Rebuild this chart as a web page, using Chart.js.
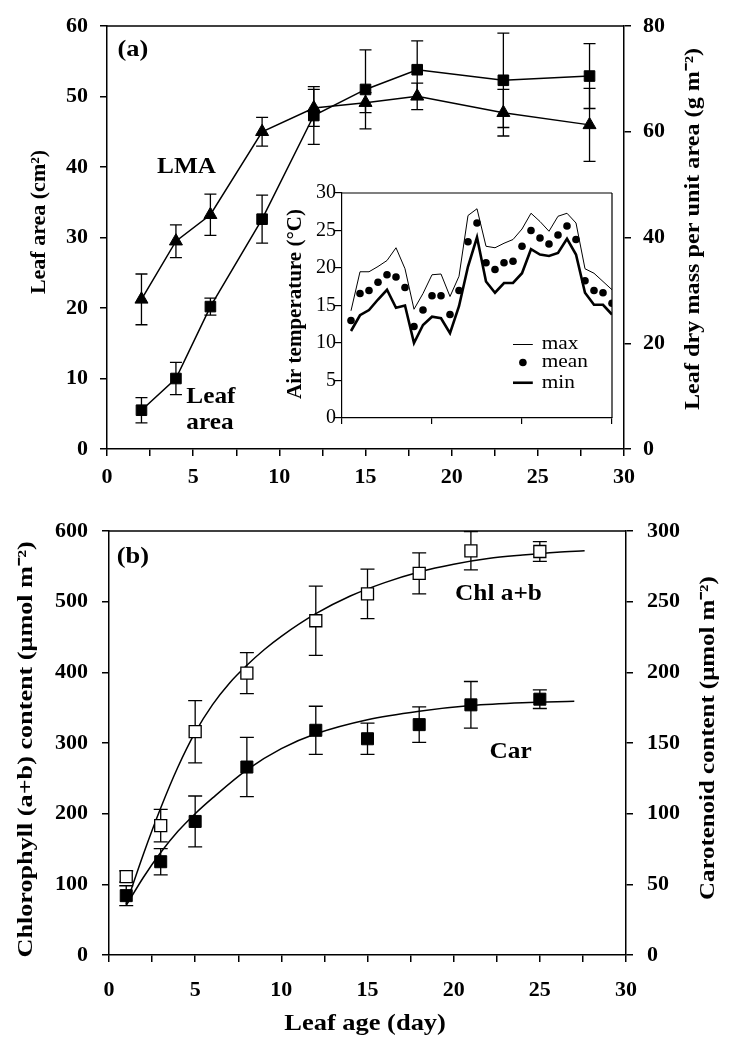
<!DOCTYPE html>
<html>
<head>
<meta charset="utf-8">
<script src="https://cdn.jsdelivr.net/npm/chart.js@4.4.1/dist/chart.umd.min.js"></script>
<style>
  body { margin: 0; background: #fff; }
  #wrap { position: relative; width: 733px; height: 1050px; }
  canvas { position: absolute; }
</style>
</head>
<body>
<div id="wrap">
  <canvas id="chartA" width="733" height="500" style="left:0;top:0"></canvas>
  <canvas id="chartInset" width="345" height="268" style="left:275px;top:160px"></canvas>
  <canvas id="chartB" width="733" height="550" style="left:0;top:500px"></canvas>
</div>
<script>
// ---- panel (a): leaf area and LMA ----
const AGE_A = [2, 4, 6, 9, 12, 15, 18, 23, 28];
const LEAF_AREA = [5.5, 10.0, 20.2, 32.6, 47.3, 51.0, 53.8, 52.3, 52.9];
const LEAF_AREA_SE = [1.8, 2.3, 1.2, 3.4, 4.1, 5.6, 4.1, 6.7, 4.6];
const LMA = [28.3, 39.3, 44.3, 60.0, 64.5, 65.5, 66.7, 63.6, 61.3];
const LMA_SE = [4.8, 3.1, 3.9, 2.7, 3.5, 1.9, 2.5, 4.4, 6.9];

// ---- inset: air temperature ----
const DAYS = [1, 2, 3, 4, 5, 6, 7, 8, 9, 10, 11, 12, 13, 14, 15,
              16, 17, 18, 19, 20, 21, 22, 23, 24, 25, 26, 27, 28, 29, 30];
const T_MAX = [14.3, 19.5, 19.5, 20.2, 21.0, 22.7, 19.9, 14.5, 16.6, 19.1, 19.2, 16.2, 18.9, 27.0, 27.9,
               22.9, 22.7, 23.3, 23.8, 25.2, 27.3, 26.2, 24.9, 26.9, 27.3, 26.0, 19.9, 19.3, 18.2, 17.1];
const T_MEAN = [13.0, 16.6, 17.0, 18.1, 19.1, 18.8, 17.4, 12.2, 14.4, 16.3, 16.3, 13.8, 17.0, 23.5, 26.0,
                20.7, 19.8, 20.7, 20.9, 22.9, 25.0, 24.0, 23.2, 24.4, 25.6, 23.8, 18.3, 17.0, 16.7, 15.3];
const T_MIN = [11.6, 13.7, 14.4, 15.8, 17.1, 14.7, 15.0, 10.0, 12.4, 13.5, 13.3, 11.3, 14.9, 20.2, 24.1,
               18.2, 16.7, 18.0, 18.0, 19.3, 22.5, 21.8, 21.6, 22.0, 23.9, 21.8, 16.7, 15.1, 15.1, 13.8];

// ---- panel (b): pigments ----
const AGE_B = [1, 3, 5, 8, 12, 15, 18, 21, 25];
const CHL = [111, 183, 316, 399, 473, 511, 540, 572, 571];
const CHL_SE = [8, 23, 44, 29, 49, 35, 29, 27, 14];
const CAR = [42, 66, 94.5, 133, 159, 153, 163, 177, 181];
const CAR_SE = [7, 9.3, 18, 21, 17, 11, 12.6, 16.5, 6.6];

// fitted curves
const CHL_FIT_AGE = [1, 2, 3, 4, 5, 6, 7, 8, 9, 10, 12, 14, 16, 18, 20, 22, 24, 26, 27.6];
const CHL_FIT = [72, 143, 208, 266, 315, 354, 385, 410, 432, 451, 483, 508, 527, 542, 553, 561, 566, 570, 572];
const CAR_FIT_AGE = [1, 2, 3, 4, 5, 6, 8, 10, 12, 15, 18, 21, 24, 27];
const CAR_FIT = [35, 55, 72.5, 87.5, 100, 111, 131, 146, 156.5, 166.5, 172.5, 176.5, 178.5, 179.5];

const SERIF = "'Liberation Serif', 'Times New Roman', serif";

function pts(xs, ys) {
  return xs.map((x, i) => ({ x: x, y: ys[i] }));
}

// fixed axis box sizes so the plot areas line up with the figure
function boxWidth(w) {
  return function(scale) {
    scale.width = w;
    scale.paddingTop = 0;
    scale.paddingBottom = 0;
  };
}
function boxHeight(h) {
  return function(scale) {
    scale.height = h;
    scale.paddingLeft = 0;
    scale.paddingRight = 0;
  };
}

function drawText(ctx, text, x, y, font, rot, stretch, align) {
  ctx.save();
  ctx.translate(x, y);
  ctx.rotate(rot || 0);
  ctx.scale(stretch || 1, 1);
  ctx.font = font;
  ctx.fillStyle = "#000";
  ctx.textAlign = align || "center";
  ctx.textBaseline = "middle";
  ctx.fillText(text, 0, 0);
  ctx.restore();
}

const errorBars = {
  id: "errorBars",
  beforeDatasetsDraw(chart) {
    const ctx = chart.ctx;
    chart.data.datasets.forEach((ds, i) => {
      if (!ds.errors) return;
      const meta = chart.getDatasetMeta(i);
      const xs = chart.scales[meta.xAxisID];
      const ys = chart.scales[meta.yAxisID];
      ctx.save();
      ctx.strokeStyle = "#000";
      ctx.lineWidth = 1.3;
      ds.data.forEach((p, j) => {
        const e = ds.errors[j];
        const x = xs.getPixelForValue(p.x);
        const top = ys.getPixelForValue(p.y + e);
        const bot = ys.getPixelForValue(p.y - e);
        const c = ds.capHalf || 6;
        ctx.beginPath();
        ctx.moveTo(x, top); ctx.lineTo(x, bot);
        ctx.moveTo(x - c, top); ctx.lineTo(x + c, top);
        ctx.moveTo(x - c, bot); ctx.lineTo(x + c, bot);
        ctx.stroke();
      });
      ctx.restore();
    });
  }
};

const frame = {
  id: "frame",
  afterDatasetsDraw(chart, args, opts) {
    const ctx = chart.ctx;
    const a = chart.chartArea;
    ctx.save();
    ctx.strokeStyle = "#000";
    ctx.lineWidth = opts.width || 1.5;
    ctx.beginPath();
    ctx.moveTo(a.left, a.top);
    ctx.lineTo(a.right, a.top);
    if (opts.right) {
      ctx.moveTo(a.right, a.top);
      ctx.lineTo(a.right, a.bottom);
    }
    ctx.stroke();
    ctx.restore();
  }
};

// axis titles: all read bottom-to-top like the original, fonts a little wide
const titles = {
  id: "titles",
  afterDraw(chart, args, opts) {
    const ctx = chart.ctx;
    (opts.items || []).forEach(t => {
      const s = chart.scales[t.axis];
      if (s.isHorizontal()) {
        drawText(ctx, t.text, s.getPixelForValue(t.at), t.pos, t.font, 0, t.stretch);
      } else {
        drawText(ctx, t.text, t.pos, s.getPixelForValue(t.at), t.font, -Math.PI / 2, t.stretch);
      }
    });
  }
};

// text labels placed in data coordinates
const notes = {
  id: "notes",
  afterDraw(chart, args, opts) {
    const ctx = chart.ctx;
    (opts.items || []).forEach(t => {
      const x = chart.scales.x.getPixelForValue(t.x);
      const y = chart.scales[t.axis || "y"].getPixelForValue(t.y);
      drawText(ctx, t.text, x, y, t.font, 0, 1.1, t.align);
    });
  }
};

// small legend inside the inset
const insetLegend = {
  id: "insetLegend",
  afterDraw(chart) {
    const ctx = chart.ctx;
    const xs = chart.scales.x;
    const ys = chart.scales.y;
    const x0 = xs.getPixelForValue(19.0);
    const x1 = xs.getPixelForValue(21.2);
    const xt = xs.getPixelForValue(22.2);
    const rows = [
      { y: 9.8, text: "max", kind: "thin" },
      { y: 7.4, text: "mean", kind: "dot" },
      { y: 4.7, text: "min", kind: "thick" }
    ];
    ctx.save();
    ctx.fillStyle = "#000";
    ctx.strokeStyle = "#000";
    rows.forEach(r => {
      const y = ys.getPixelForValue(r.y);
      if (r.kind === "dot") {
        ctx.beginPath();
        ctx.arc((x0 + x1) / 2, y, 3.8, 0, Math.PI * 2);
        ctx.fill();
      } else {
        ctx.lineWidth = r.kind === "thin" ? 1 : 2.6;
        ctx.beginPath();
        ctx.moveTo(x0, y);
        ctx.lineTo(x1, y);
        ctx.stroke();
      }
      drawText(ctx, r.text, xt, y, "19px " + SERIF, 0, 1.12, "left");
    });
    ctx.restore();
  }
};

function axisStyle(extra) {
  return Object.assign({
    grid: { drawOnChartArea: false, color: "#000", lineWidth: 1.5, tickLength: 7 },
    border: { display: true, color: "#000", width: 1.5 }
  }, extra);
}

const boldTick = { family: SERIF, size: 22, weight: "bold" };
const TITLE_FONT = "bold 22px " + SERIF;

// ---------- panel (a) ----------
new Chart(document.getElementById("chartA"), {
  type: "scatter",
  data: {
    datasets: [
      {
        label: "Leaf area",
        data: pts(AGE_A, LEAF_AREA),
        errors: LEAF_AREA_SE,
        capHalf: 6,
        yAxisID: "y",
        showLine: true,
        borderColor: "#000",
        borderWidth: 1.5,
        backgroundColor: "#000",
        pointStyle: "rect",
        pointRadius: 7.5,
        pointBorderWidth: 1
      },
      {
        label: "LMA",
        data: pts(AGE_A, LMA),
        errors: LMA_SE,
        capHalf: 6,
        yAxisID: "y2",
        showLine: true,
        borderColor: "#000",
        borderWidth: 1.5,
        backgroundColor: "#000",
        pointStyle: "triangle",
        pointRadius: 7.5,
        pointBorderWidth: 1
      }
    ]
  },
  options: {
    responsive: false,
    animation: false,
    layout: { padding: { top: 26, left: 0, right: 0, bottom: 0 } },
    plugins: {
      legend: { display: false },
      tooltip: { enabled: false },
      frame: { width: 1.5 },
      titles: {
        items: [
          { text: "Leaf area (cm²)", axis: "y", at: 32.2, pos: 39, font: TITLE_FONT, stretch: 1 },
          { text: "Leaf dry mass per unit area (g m⁻²)", axis: "y", at: 31.2, pos: 693, font: TITLE_FONT, stretch: 1.1 }
        ]
      },
      notes: {
        items: [
          { text: "(a)", x: 1.5, y: 56.6, font: "bold 24px " + SERIF },
          { text: "LMA", x: 4.62, y: 40.0, font: "bold 23px " + SERIF },
          { text: "Leaf", x: 4.6, y: 7.4, align: "left", font: "bold 23px " + SERIF },
          { text: "area", x: 4.6, y: 3.7, align: "left", font: "bold 23px " + SERIF }
        ]
      }
    },
    scales: {
      x: axisStyle({
        type: "linear",
        min: 0,
        max: 30,
        ticks: {
          stepSize: 2.5,
          autoSkip: false,
          maxRotation: 0,
          padding: 8,
          color: "#000",
          font: boldTick,
          callback: v => (v % 5 === 0 ? v : "")
        },
        afterFit: boxHeight(51)
      }),
      y: axisStyle({
        position: "left",
        min: 0,
        max: 60,
        ticks: { stepSize: 10, padding: 12, color: "#000", font: boldTick },
        afterFit: boxWidth(107)
      }),
      y2: axisStyle({
        position: "right",
        min: 0,
        max: 80,
        ticks: { stepSize: 20, padding: 12, color: "#000", font: boldTick },
        afterFit: boxWidth(109)
      })
    }
  },
  plugins: [errorBars, frame, titles, notes]
});

// ---------- inset ----------
new Chart(document.getElementById("chartInset"), {
  type: "scatter",
  data: {
    datasets: [
      {
        label: "max",
        data: pts(DAYS, T_MAX),
        showLine: true,
        borderColor: "#000",
        borderWidth: 1,
        pointRadius: 0
      },
      {
        label: "mean",
        data: pts(DAYS, T_MEAN),
        showLine: false,
        backgroundColor: "#000",
        borderColor: "#000",
        pointRadius: 3.8,
        pointBorderWidth: 0
      },
      {
        label: "min",
        data: pts(DAYS, T_MIN),
        showLine: true,
        borderColor: "#000",
        borderWidth: 2.6,
        pointRadius: 0
      }
    ]
  },
  options: {
    responsive: false,
    animation: false,
    layout: { padding: { top: 33, left: 0, right: 8, bottom: 0 } },
    plugins: {
      legend: { display: false },
      tooltip: { enabled: false },
      frame: { width: 1.2, right: true },
      titles: {
        items: [
          { text: "Air temperature (°C)", axis: "y", at: 15.2, pos: 21, font: "bold 21px " + SERIF, stretch: 1.0 }
        ]
      }
    },
    scales: {
      x: {
        type: "linear",
        min: 0,
        max: 30,
        ticks: { stepSize: 10, autoSkip: false, callback: () => "" },
        grid: { drawOnChartArea: false, color: "#000", lineWidth: 1.2, tickLength: 6 },
        border: { display: true, color: "#000", width: 1.2 },
        afterFit: boxHeight(10)
      },
      y: {
        position: "left",
        min: 0,
        max: 30,
        ticks: {
          stepSize: 5,
          padding: -2,
          color: "#000",
          font: { family: SERIF, size: 20 }
        },
        grid: { drawOnChartArea: false, color: "#000", lineWidth: 1.2, tickLength: 8 },
        border: { display: true, color: "#000", width: 1.2 },
        afterFit: boxWidth(67)
      }
    }
  },
  plugins: [frame, titles, insetLegend]
});

// ---------- panel (b) ----------
new Chart(document.getElementById("chartB"), {
  type: "scatter",
  data: {
    datasets: [
      {
        label: "Chl a+b",
        data: pts(AGE_B, CHL),
        errors: CHL_SE,
        capHalf: 7,
        yAxisID: "y",
        showLine: false,
        backgroundColor: "#fff",
        borderColor: "#000",
        pointStyle: "rect",
        pointRadius: 8.5,
        pointBorderWidth: 1.3,
        order: 0
      },
      {
        label: "Car",
        data: pts(AGE_B, CAR),
        errors: CAR_SE,
        capHalf: 7,
        yAxisID: "y2",
        showLine: false,
        backgroundColor: "#000",
        borderColor: "#000",
        pointStyle: "rect",
        pointRadius: 8.5,
        pointBorderWidth: 1,
        order: 0
      },
      {
        label: "Chl fit",
        data: pts(CHL_FIT_AGE, CHL_FIT),
        yAxisID: "y",
        showLine: true,
        cubicInterpolationMode: "monotone",
        borderColor: "#000",
        borderWidth: 1.5,
        pointRadius: 0,
        order: 1
      },
      {
        label: "Car fit",
        data: pts(CAR_FIT_AGE, CAR_FIT),
        yAxisID: "y2",
        showLine: true,
        cubicInterpolationMode: "monotone",
        borderColor: "#000",
        borderWidth: 1.5,
        pointRadius: 0,
        order: 1
      }
    ]
  },
  options: {
    responsive: false,
    animation: false,
    layout: { padding: { top: 31, left: 0, right: 0, bottom: 0 } },
    plugins: {
      legend: { display: false },
      tooltip: { enabled: false },
      frame: { width: 1.5 },
      titles: {
        items: [
          { text: "Chlorophyll (a+b) content (μmol m⁻²)", axis: "y", at: 291, pos: 26, font: TITLE_FONT, stretch: 1.19 },
          { text: "Carotenoid content (μmol m⁻²)", axis: "y", at: 307, pos: 708, font: TITLE_FONT, stretch: 1.13 },
          { text: "Leaf age (day)", axis: "x", at: 14.86, pos: 524, font: "bold 23px " + SERIF, stretch: 1.15 }
        ]
      },
      notes: {
        items: [
          { text: "(b)", x: 1.39, y: 563, font: "bold 24px " + SERIF },
          { text: "Chl a+b", x: 22.6, y: 511, font: "bold 23px " + SERIF },
          { text: "Car", x: 23.3, y: 287, font: "bold 23px " + SERIF }
        ]
      }
    },
    scales: {
      x: axisStyle({
        type: "linear",
        min: 0,
        max: 30,
        ticks: {
          stepSize: 2.5,
          autoSkip: false,
          maxRotation: 0,
          padding: 15,
          color: "#000",
          font: boldTick,
          callback: v => (v % 5 === 0 ? v : "")
        },
        afterFit: boxHeight(95)
      }),
      y: axisStyle({
        position: "left",
        min: 0,
        max: 600,
        ticks: { stepSize: 100, padding: 14, color: "#000", font: boldTick },
        afterFit: boxWidth(109)
      }),
      y2: axisStyle({
        position: "right",
        min: 0,
        max: 300,
        ticks: { stepSize: 50, padding: 14, color: "#000", font: boldTick },
        afterFit: boxWidth(107)
      })
    }
  },
  plugins: [errorBars, frame, titles, notes]
});
</script>
</body>
</html>
